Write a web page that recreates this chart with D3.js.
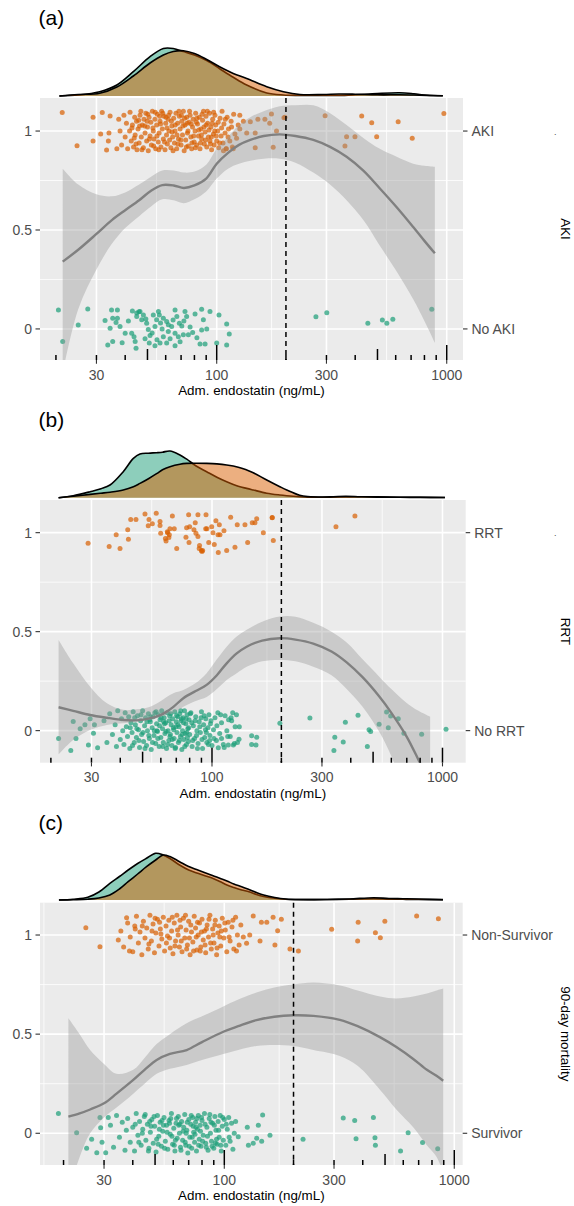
<!DOCTYPE html>
<html><head><meta charset="utf-8">
<script src="https://cdn.jsdelivr.net/npm/d3@7"></script>
<style>body{margin:0;background:#fff} svg{display:block} text{font-family:"Liberation Sans",Arial,Helvetica,sans-serif}</style>
</head><body><svg id="c" width="574" height="1206"></svg>
<script>
// ---------------- DATA ----------------
const xTickValues = [30, 100, 300, 1000];
const xTickLabels = ["30", "100", "300", "1000"];
const yTickValues = [0, 0.5, 1];
const yTickLabels = ["0", "0.5", "1"];
const panelLetters = ["(a)", "(b)", "(c)"];
const outcomeTitles = ["AKI", "RRT", "90-day mortality"];
const levelLabelsA = ["No AKI", "AKI"];
const levelLabelsB = ["No RRT", "RRT"];
const levelLabelsC = ["Survivor", "Non-Survivor"];
const xAxisTitle = "Adm. endostatin (ng/mL)";
const cutoffValue = 200;
const groupColors = ["#1B9E77", "#D95F02"];

// marginal densities (relative density units) on endostatin grid
const densGridA = [20.7,25,31,36.8,43.4,51.3,58.6,64.7,71.6,80,90.5,103.4,118,135,165,195,230,290,340,400,500,625,720,820,962];
const densNoA   = [0,1,4.3,11,24.3,39.3,47.5,47.5,44.5,41,35.5,27,18.7,11,3,1,0.6,0.5,0.5,1.2,2.5,3.2,2.2,0.8,0.2];
const densYesA  = [0,1.5,2.7,9,20,33,41,44.5,45.3,42.5,36.5,29,22.5,17.5,9.3,4.3,1.5,1.5,2,1.8,1.2,1.2,1,0.6,0.2];

const densGridB = [21.6,25,29.6,33,36.1,41.2,45.6,48.7,53,57.5,61,65.7,72.6,77.7,85,94.8,105,115.8,130,141.4,151,172.8,197,211,240,260,325,380,440,520,655,800,1025];
const densNoB   = [0,2,6,9,12.7,26,39.3,43.7,44.5,45,45.5,46.7,42.7,38.5,32,26,20.5,16,11.5,9.3,7.7,4.5,2.7,2,1,0.6,0.5,0.8,1,0.8,0.5,0.4,0.2];
const densYesB  = [0,1.5,3.3,4.5,5.5,7.7,11,14.3,19,24,28,31,33.5,34.3,34.5,34.3,33.8,32.7,30.5,27.7,25,17.7,11,7.7,2.5,1.2,0.8,1.5,1,0.6,0.4,0.3,0.2];

const densGridC = [19.1,22,25.5,28.5,31.8,35,38.2,42,45.9,50.3,54.2,58,63.9,70,76.7,83,88.9,95.6,102.7,110,119,128,138,148.3,165.7,184.9,220,280,350,446,520,598,700,893];
const densNoC   = [0,0.8,2.7,8,16.7,23.5,30,36.5,41.7,46.7,45,41.5,35,30,26.7,24,21.7,18.5,15,12.5,10,8.3,5.5,3.5,1.7,0.8,0.4,0.5,0.8,1.2,0.9,0.7,0.5,0.2];
const densYesC  = [0,0.3,0.8,2,5,11,18.3,26,33.3,40,45,43.5,38.3,33.5,30,27,24.5,21.7,19,16,13.3,10.5,7.5,5,2.5,1,0.5,0.5,1,2.3,1.5,1.3,1,0.4];

// loess fits with 95% band
const smoothXA  = [21.4,25,30,35,40,46,52,58,65,72,80,90,100,112,125,140,160,188,220,263,311,367,434,512,606,715,800,888];
const smoothFitA= [0.34,0.40,0.48,0.55,0.60,0.65,0.70,0.727,0.725,0.712,0.725,0.76,0.835,0.89,0.93,0.955,0.975,0.983,0.975,0.955,0.92,0.87,0.80,0.71,0.615,0.515,0.445,0.382];
const smoothLoA = [-0.22,0.10,0.30,0.43,0.51,0.57,0.62,0.655,0.65,0.635,0.655,0.695,0.76,0.81,0.835,0.85,0.86,0.86,0.84,0.79,0.73,0.65,0.55,0.42,0.29,0.15,0.04,-0.07];
const smoothHiA = [0.81,0.73,0.68,0.67,0.69,0.73,0.77,0.80,0.80,0.79,0.795,0.83,0.91,0.97,1.03,1.07,1.10,1.125,1.13,1.13,1.09,1.03,0.965,0.91,0.87,0.835,0.825,0.82];

const smoothXB  = [21.6,25,29.6,35,41.2,47,53.9,60,63.6,68,75.1,85,94.8,105,115.8,128,141.4,165,197,230,275,330,384,450,534,600,699,787,884];
const smoothFitB= [0.118,0.10,0.079,0.065,0.054,0.052,0.062,0.08,0.096,0.12,0.164,0.20,0.231,0.28,0.34,0.39,0.424,0.455,0.467,0.46,0.44,0.40,0.345,0.27,0.17,0.09,-0.03,-0.148,-0.27];
const smoothLoB = [-0.12,-0.047,0.003,0.029,0.037,0.045,0.054,0.07,0.08,0.088,0.12,0.15,0.17,0.21,0.256,0.29,0.323,0.35,0.357,0.35,0.323,0.28,0.21,0.12,-0.01,-0.13,-0.33,-0.5,-0.65];
const smoothHiB = [0.458,0.34,0.222,0.138,0.105,0.108,0.121,0.15,0.17,0.189,0.205,0.24,0.29,0.36,0.424,0.475,0.509,0.55,0.576,0.575,0.545,0.50,0.445,0.36,0.27,0.21,0.14,0.10,0.07];

const smoothXC  = [21,23.5,26.1,30,34,40.2,45,50.8,58,68.6,80,99,115,138,165,200,244,318,380,475,560,663,760,837,895];
const smoothFitC= [0.084,0.10,0.12,0.151,0.20,0.269,0.32,0.37,0.40,0.42,0.46,0.512,0.54,0.571,0.588,0.595,0.592,0.572,0.54,0.485,0.435,0.375,0.32,0.29,0.265];
const smoothLoC = [-0.3,-0.12,0.0,0.08,0.13,0.20,0.25,0.30,0.325,0.345,0.37,0.40,0.42,0.44,0.445,0.44,0.42,0.39,0.34,0.22,0.12,0.03,-0.06,-0.118,-0.2];
const smoothHiC = [0.58,0.50,0.42,0.35,0.30,0.32,0.38,0.45,0.50,0.555,0.59,0.64,0.675,0.71,0.735,0.75,0.76,0.745,0.72,0.69,0.68,0.69,0.705,0.72,0.73];

// jittered observations [endostatin, jittered outcome]
const ptsYesA = [[21.3,1.094],[24.7,0.926],[29,0.95],[29,1.07],[31.3,0.985],[31.8,1.094],[33.2,0.904],[33.8,0.95],[34,0.99],[34.4,1.076],[36.8,0.91],
[37.5,1.06],[38,1.0],[38.6,0.93],[39.5,1.08],[40,0.97],[40.5,1.04],[41,0.91],[41.8,1.0],[42,1.095],[42.5,0.95],[43,1.03],[43.5,0.92],[44,1.07],[44.2,0.98],[44.8,1.05],[45,0.905],[45.5,1.01],[46,0.94],[46.4,1.08],[46.8,1.1],[47,0.97],[47.5,1.03],[48,0.915],[48.3,1.06],[48.8,0.99],[49.2,1.09],[49.6,0.95],[50,1.02],[50.4,0.9],[50.8,1.07],[51.3,0.975],[51.7,1.045],[52,0.93],[52.5,1.1],[53,1.0],[53.4,0.96],[53.9,1.06],[54.3,0.91],[54.8,1.03],[55.2,1.085],[55.7,0.945],[56.2,0.99],[56.7,1.05],[57.2,0.92],[57.6,1.1],[58,1.01],[58.6,0.96],[59,1.075],[59.6,0.905],[60,1.04],[60.5,0.98],[61,0.935],[61.5,1.06],[62,1.0],[62.7,1.095],[63.2,0.915],[63.8,1.025],[64.3,0.97],[65,1.065],[65.5,0.94],[65.9,1.0],[66.5,1.09],[67,0.91],[67.6,1.04],[68.2,0.96],[68.8,1.075],[69.3,1.01],[70,0.93],[70.5,1.05],[71,0.98],[71.6,1.1],[72.2,0.9],[72.8,1.03],[73.3,0.955],[74,1.07],[74.6,0.99],[75.2,0.925],[75.8,1.045],[76.6,1.08],[77.2,0.97],[77.8,0.91],[78.5,1.02],[79,1.06],[79.8,0.945],[80.5,1.0],[81,1.09],[81.8,0.93],[82.5,1.035],[83.3,0.975],[84,1.07],[84.6,0.91],[85.4,1.01],[86,0.96],[86.8,1.055],[87.6,1.1],[88.3,0.935],[89,0.995],[89.8,1.075],[90.5,0.92],[91.3,1.04],[92,0.97],[93,1.09],[93.5,0.95],[94.3,1.02],[95,0.905],[96,1.06],[96.8,0.985],[97.5,0.93],[98.3,1.08],[99,1.03],[100,0.95],[101,1.0],[102,0.915],[103.4,1.065],[104.5,0.975],[105.5,1.1],[106.5,0.94],[107.5,1.035],[108.7,0.99],[110,0.91],[111,1.07],[112.5,1.01],[114,0.95],[115.5,1.05],[117,0.92],[118.5,1.085],[120,0.985],[122,0.963],[124,1.03],[126,1.08],[126,1.01],[118,0.91],[110,0.91],[130.6,1.05],[135,0.99],[140,1.047],[147,0.99],[147,0.916],[151,1.06],[162,1.06],[170,1.04],[173,1.086],[176,0.918],[182,1.0],[198,1.07],[196,1.067],[296,1.077],[361,0.924],[367,0.971],[399,0.971],[427,1.076],[472,1.042],[496,0.971],[615,1.047],[708,0.963],[972,1.089],
[42.8,1.015],[44.6,0.935],[45.8,1.055],[47.3,0.905],[48.6,1.025],[50.2,1.085],[51,0.96],[52.8,1.015],[54,1.095],[55,0.975],[56,0.905],[57,1.035],[58.3,1.09],[59.3,0.945],[60.8,1.015],[61.8,1.08],[62.4,0.955],[63.5,1.05],[64.6,0.9],[66,1.03],[67.2,0.98],[68.5,1.1],[69.8,0.955],[71.3,1.025],[72.5,1.065],[73.8,0.92],[75,1.0],[76.2,1.1],[77.5,1.035],[79.4,0.975],[80.8,0.915],[82,1.065],[83.6,1.005],[85,0.94],[86.4,1.085],[88,1.02],[89.4,0.955],[91,1.1],[92.6,1.005],[94,0.935],[95.6,1.04],[97,1.095],[99.5,0.975],[101.5,1.045],[103,0.94],[105,1.015],[107,0.9],[109,1.06],[112,0.97],[116,1.02],[43.8,0.965],[46.2,1.025],[49.8,1.05],[53.2,0.925],[56.5,1.075],[60.2,1.07],[64,0.995],[67.8,0.935],[70.2,1.08],[74.3,1.04],[78,0.94],[81.5,1.045],[85.8,0.98],[90,1.03],[94.8,0.97],[98,1.0]];

const ptsNoA = [[20.5,0.096],[21.4,-0.064],[25,0.02],[27.5,0.101],[32.7,0.042],[34.4,0.003],[33.6,-0.081],[35.3,-0.064],[34.9,0.096],[37,0.096],[35.3,0.054],[37,0.054],[36.5,0.033],[38,0.012],[40,-0.022],[42.7,-0.022],[44.2,-0.064],[44.6,-0.098],[43.7,-0.04],[44.9,0.08],[46.4,0.088],[44.9,0.063],[48,0.071],[47.2,0.046],[49.6,0.029],[50.4,-0.003],[51.3,-0.033],[50.9,-0.071],[53.9,-0.085],[56.7,-0.071],[53,0.071],[55.8,0.088],[56.3,0.071],[53.9,0.012],[54.8,0.046],[58.6,0.054],[60.6,0.037],[61.6,0.021],[63.7,0.012],[61.6,-0.013],[58.6,-0.04],[60.6,-0.071],[65.9,0.096],[67.1,0.063],[68.8,0.029],[65.9,-0.022],[68.1,-0.04],[65.9,-0.085],[72.8,0.088],[74,0.063],[70.5,0.015],[71.6,-0.03],[75.3,-0.03],[78.6,-0.018],[80.5,0.075],[86,0.1],[87.5,0.046],[86,-0.005],[84.6,-0.076],[89,-0.076],[90.5,0.0],[93.5,0.088],[102.3,0.071],[100,-0.071],[110.5,0.025],[113.4,-0.025],[110.5,-0.081],
[45.9,0.087],[48.8,-0.05],[52.4,-0.02],[55,-0.055],[57.9,0.0],[62.7,-0.05],[64.6,0.045],[69.3,-0.065],[72,0.04],[76.6,0.01],[82,-0.045],[41.3,0.04],[38.8,-0.07],[43,0.09],[49.2,0.05],[57,0.03],
[270,0.062],[301,0.082],[454,0.029],[525,0.045],[549,0.029],[583,0.049],[861,0.1]];

const ptsYesB = [[29,0.946],[35.8,0.93],[39.9,0.92],[38.4,0.99],[43.4,0.967],[43.1,1.015],[44.4,1.066],[46.8,1.066],[51.2,1.094],[53.3,1.066],[52.9,1.035],[55.1,1.045],[57.3,1.098],[59.5,1.056],[59.5,1.036],[59.9,0.997],[62.8,0.97],[63.2,0.958],[64.2,1.0],[65.3,0.99],[65.7,1.02],[68.6,1.02],[67.3,1.084],[70.3,0.92],[77.1,0.977],[79.5,0.95],[77.6,1.025],[79.2,1.09],[83.5,1.015],[84.6,1.05],[85.2,0.997],[86.9,1.09],[86.9,0.98],[88,0.92],[89.9,0.91],[91.1,0.91],[90.5,0.905],[94.2,1.09],[93.9,1.02],[96.8,0.95],[99.7,1.03],[102.3,0.94],[104,1.06],[106.5,0.9],[106.2,0.99],[107.6,1.04],[108.3,0.99],[112.7,1.01],[115.8,0.91],[120.5,1.078],[125.8,0.926],[128.7,1.04],[139,1.04],[142.8,0.95],[149.5,1.05],[153.6,1.05],[156.3,1.07],[167,1.0],[182.5,1.077],[182.5,1.075],[184.5,0.96],[345,1.03],[417,1.084],[64,1.005],[65,0.975],[88.3,0.935],[95,1.02],[101,1.0],[80,1.03]];

const ptsNoB = [[21.6,-0.04],[24.4,-0.1],[25,0.046],[25.7,-0.04],[28.1,0.03],[29.1,-0.072],[30.6,-0.013],[30.9,0.03],[31.9,-0.086],[26.8,0.01],[29.6,0.06],
[110,-0.04],[106.5,-0.086],[117.7,-0.072],[121.7,0.05],[127.7,0.08],[131.4,0.02],[131,-0.044],[123.8,-0.072],[148.6,-0.026],[156.3,-0.034],[148.6,-0.07],[155.2,-0.072],[197,0.037],
[266,0.064],[341,-0.034],[338,-0.1],[371,-0.057],[379,0.042],[430,0.078],[472,-0.08],[480,0.004],[488,-0.005],[531,0.032],[572,0.094],[596,0.074],[582,0.014],[643,0.06],[680,-0.013],[812,-0.018],[1036,0.007],
[34,0.05],[35,-0.06],[36,0.085],[37,-0.02],[38,0.03],[38.5,-0.08],[39,0.1],[40,-0.045],[40.5,0.06],[41,0.0],[41.5,-0.07],[42,0.09],[42.5,0.02],[43,-0.03],[43.5,0.07],[44,-0.09],[44.5,0.04],[45,-0.01],[45.5,0.095],[46,-0.06],[46.5,0.03],[47,-0.035],[47.5,0.075],[48,0.005],[48.5,-0.085],[49,0.05],[49.5,-0.02],[50,0.1],[50.5,-0.055],[51,0.025],[51.5,0.065],[52,-0.075],[52.5,0.0],[53,0.085],[53.5,-0.04],[54,0.045],[54.5,-0.095],[55,0.015],[55.5,0.07],[56,-0.025],[56.5,0.09],[57,-0.065],[57.5,0.035],[58,-0.005],[58.5,0.08],[59,-0.08],[59.5,0.055],[60,-0.035],[60.5,0.1],[61,0.01],[61.5,-0.06],[62,0.065],[62.5,-0.015],[63,0.04],[63.5,-0.09],[64,0.09],[64.5,0.0],[65,-0.05],[65.5,0.075],[66,-0.02],[66.5,0.03],[67,-0.075],[67.5,0.06],[68,0.015],[68.5,-0.04],[69,0.095],[69.5,-0.085],[70,0.045],[70.5,-0.01],[71,0.07],[71.5,-0.06],[72,0.02],[72.5,0.085],[73,-0.03],[73.5,0.05],[74,-0.095],[74.5,0.0],[75,0.065],[75.5,-0.045],[76,0.1],[76.5,-0.015],[77,0.035],[77.5,-0.07],[78,0.08],[78.5,0.01],[79,-0.055],[79.5,0.055],[80,-0.02],[81,0.09],[82,-0.08],[83,0.025],[84,-0.04],[85,0.07],[86,0.0],[87,-0.065],[88,0.045],[89,-0.01],[90,0.095],[91,-0.09],[92,0.03],[93,-0.035],[94,0.06],[95,-0.06],[96,0.015],[97,0.08],[98,-0.025],[99,0.05],[100,-0.075],[101.5,0.005],[103,0.065],[104.5,-0.05],[106,0.09],[108,-0.015],[110,0.04],[112,-0.07],[114,0.075],[116,0.0],[118,0.055],[120,-0.03],[123,0.09],[126,0.02],[129,-0.06],
[44.2,0.015],[45.2,-0.075],[46.2,0.065],[47.2,0.01],[48.2,-0.05],[49.2,0.08],[50.2,-0.01],[51.2,-0.09],[52.2,0.045],[53.2,-0.025],[54.2,0.07],[55.2,-0.06],[56.2,0.0],[57.2,0.095],[58.2,-0.04],[59.2,0.025],[60.2,0.065],[61.2,-0.08],[62.2,0.035],[63.2,-0.005],[64.2,-0.07],[65.2,0.05],[66.2,0.085],[67.2,-0.045],[68.2,0.005],[69.2,-0.09],[70.2,0.075],[71.2,0.03],[72.2,-0.05],[73.2,0.1],[74.2,-0.02],[75.2,0.04],[76.2,-0.08],[77.2,0.06],[78.2,-0.035],[79.2,0.015],[80.5,0.085],[82.5,-0.05],[84.5,0.05],[86.5,-0.09],[88.5,0.02],[90.5,-0.045],[92.5,0.075],[94.5,-0.01],[96.5,-0.07],[98.5,0.035],[102,-0.04],[105,0.025],[109,0.08],[113,-0.085],[117,-0.03],[121,0.065],[125,-0.065],
[53.7,0.055],[57.7,0.0],[61.7,0.045],[65.7,-0.03],[69.7,0.02],[73.7,0.06],[77.7,-0.01],[81.7,0.04],[85.7,-0.025],[89.7,0.065],[93.7,0.005],[97.7,-0.05]];

const ptsYesC = [[25,1.037],[28.8,0.941],[34.6,0.975],[37.6,1.087],[163,1.089],[170.6,1.022],[166,0.95],[193,0.93],[210,0.92],[143,0.97],[145,1.065],[153,1.065],[133.6,1.096],[121,0.99],[125,0.958],[129,1.0],[293,1.029],[177,1.08],[382,1.064],[380,0.97],[454,1.012],[477,0.986],[499,1.07],[686,1.096],[853,1.082],
[35.5,1.02],[36.5,0.94],[38,1.06],[39,0.99],[40,0.915],[40.8,1.045],[41.5,1.095],[42.3,0.96],[43,1.015],[43.8,0.9],[44.5,1.07],[45.2,0.985],[46,1.035],[46.7,0.93],[47.5,1.1],[48.2,0.97],[49,1.055],[49.7,0.91],[50.4,1.01],[51.2,1.08],[52,0.945],[52.7,1.03],[53.5,0.98],[54.3,1.09],[55,0.92],[55.8,1.045],[56.6,0.995],[57.4,1.075],[58.2,0.935],[59,1.02],[59.8,0.905],[60.6,1.06],[61.4,0.97],[62.2,1.1],[63,1.0],[63.8,0.94],[64.6,1.04],[65.5,0.915],[66.4,1.085],[67.3,0.985],[68.2,1.025],[69.1,0.95],[70,1.07],[71,0.9],[72,1.015],[73,0.965],[74,1.095],[75,1.035],[76,0.925],[77,1.0],[78,1.06],[79,0.94],[80,1.08],[81,0.975],[82,1.02],[83,0.91],[84.2,1.05],[85.4,0.99],[86.6,1.1],[87.8,0.93],[89,1.03],[90.2,0.96],[91.4,1.075],[92.6,0.9],[93.8,1.01],[95,1.045],[96.5,0.945],[98,1.085],[99.5,0.985],[101,1.025],[102.5,0.915],[104,1.065],[106,0.97],[108,1.04],[110,0.93],[112,1.09],[114,1.0],[116,0.95],[118,1.05],[38.7,0.92],[41,1.03],[44,1.045],[47,0.955],[50,1.085],[53,1.005],[56,0.96],[59.4,1.09],[62.6,1.025],[65,0.97],[67.8,1.1],[70.5,0.985],[73.5,0.92],[76.5,1.065],[79.5,1.015],[82.5,0.95],[85.8,1.08],[89.5,1.0],[93,0.935],[97,1.02],[100.5,1.06],[105,0.99],[109,1.075],[113,0.92],[48.5,1.02],[52.3,1.065],[57.8,0.985],[61,0.945],[64.2,1.075],[68.6,0.93],[71.5,1.05],[75.5,0.99],[78.6,0.92],[83.6,1.03],[87.2,0.96],[91,1.05],[95.6,0.99]];

const ptsNoC = [[19,0.1],[22.8,0.003],[25.2,-0.076],[26.5,-0.03],[27.9,-0.098],[28.8,0.08],[29,0.028],[30.5,-0.098],[31.3,0.08],[29.4,-0.045],
[115,-0.017],[125.9,0.03],[127.3,-0.06],[133.6,-0.05],[138.3,-0.025],[140.6,0.04],[145.4,-0.04],[146.8,0.092],[158,-0.01],[220,-0.03],[329,0.077],[369,0.064],[374,-0.027],[445,0.08],[452,-0.022],[454,-0.06],[584,-0.09],[630,0.003],[728,-0.047],[847,-0.078],
[32,0.04],[33,-0.07],[34,0.09],[35,-0.02],[36,0.055],[37,-0.085],[37.5,0.015],[38,0.075],[39,-0.045],[40,0.03],[40.7,-0.09],[41.4,0.1],[42.1,-0.01],[42.8,0.06],[43.5,-0.06],[44.2,0.02],[44.9,0.085],[45.6,-0.035],[46.3,0.045],[47,-0.075],[47.7,0.005],[48.4,0.07],[49.1,-0.05],[49.8,0.035],[50.5,-0.095],[51.2,0.09],[51.9,-0.015],[52.6,0.055],[53.3,-0.065],[54,0.01],[54.7,0.08],[55.4,-0.04],[56.1,0.04],[56.8,-0.08],[57.5,0.065],[58.2,-0.005],[58.9,0.1],[59.6,-0.055],[60.3,0.025],[61,-0.09],[61.7,0.05],[62.4,-0.025],[63.1,0.085],[63.8,0.0],[64.5,-0.07],[65.2,0.06],[65.9,-0.035],[66.6,0.03],[67.3,0.095],[68,-0.06],[68.7,0.015],[69.4,-0.1],[70.1,0.07],[70.8,-0.02],[71.5,0.045],[72.2,-0.075],[72.9,0.08],[73.6,0.005],[74.3,-0.045],[75,0.055],[75.7,-0.09],[76.4,0.02],[77.1,0.09],[77.8,-0.03],[78.5,0.04],[79.2,-0.065],[80,0.065],[81,-0.01],[82,0.1],[83,-0.05],[84,0.03],[85,-0.085],[86,0.075],[87,0.0],[88,-0.04],[89,0.05],[90,-0.075],[91,0.085],[92,0.015],[93,-0.055],[94,0.06],[95,-0.02],[96,0.09],[97,-0.09],[98,0.035],[99,-0.035],[100,0.07],[101.5,-0.06],[103,0.02],[104.5,0.08],[106,-0.04],[107.5,0.05],[109,-0.08],[110.5,0.0],[112,0.06],
[41,0.045],[42.5,-0.045],[44,0.0],[45.3,0.095],[46.8,-0.09],[48,0.035],[49.5,0.085],[50.8,-0.03],[52.2,0.02],[53.6,0.065],[55,-0.075],[56.4,0.005],[57.8,0.05],[59.2,-0.015],[60.6,-0.06],[62,0.075],[63.4,0.04],[64.8,-0.085],[66.2,0.01],[67.6,-0.045],[69,0.055],[70.4,-0.065],[71.8,0.09],[73.2,0.035],[74.6,-0.005],[76,0.075],[77.4,-0.06],[78.8,0.01],[80.5,-0.04],[82.5,0.045],[84.5,-0.015],[86.5,0.095],[88.5,-0.065],[90.5,0.04],[92.5,-0.03],[94.5,0.015],[96.5,-0.06],[98.5,0.08],[102,0.045],[105,-0.02],[47.4,0.06],[51.6,-0.055],[54.4,0.04],[58.5,0.075],[61.3,-0.035],[64.1,0.045],[68.3,0.0],[72.5,-0.02],[75.3,0.03],[79.6,0.08],[83.5,-0.07],[87.5,0.055],[91.5,-0.05]];

// ---------------- DRAWING ----------------
const svg = d3.select("#c");
const layouts = [
  {left:40, right:463,   top:98,    bottom:360,  xlo:17.05, xhi:1177, ylo:-0.157, yhi:1.167, base:96,    letterY:25,  dot:true},
  {left:40, right:465.7, top:500,   bottom:762.7,xlo:17.94, xhi:1261, ylo:-0.162, yhi:1.165, base:497.7, letterY:427, dot:true},
  {left:40, right:462.7, top:902.7, bottom:1165, xlo:15.8,  xhi:1088, ylo:-0.16,  yhi:1.163, base:900,   letterY:830, dot:false}
];
const datasets = [
  {grid:densGridA, dNo:densNoA, dYes:densYesA, sx:smoothXA, fit:smoothFitA, lo:smoothLoA, hi:smoothHiA, no:ptsNoA, yes:ptsYesA, levels:levelLabelsA},
  {grid:densGridB, dNo:densNoB, dYes:densYesB, sx:smoothXB, fit:smoothFitB, lo:smoothLoB, hi:smoothHiB, no:ptsNoB, yes:ptsYesB, levels:levelLabelsB},
  {grid:densGridC, dNo:densNoC, dYes:densYesC, sx:smoothXC, fit:smoothFitC, lo:smoothLoC, hi:smoothHiC, no:ptsNoC, yes:ptsYesC, levels:levelLabelsC}
];
const smoothCurve = d3.curveCatmullRom.alpha(0.5);

layouts.forEach((L, i) => {
  const D = datasets[i];
  const g = svg.append("g");
  const x = d3.scaleLog().domain([L.xlo, L.xhi]).range([L.left, L.right]);
  const y = d3.scaleLinear().domain([L.ylo, L.yhi]).range([L.bottom, L.top]);
  const yd = d3.scaleLinear().domain([0, 50]).range([L.base, L.base - 50]);
  const W = L.right - L.left, H = L.bottom - L.top;

  g.append("rect").attr("x", L.left).attr("y", L.top).attr("width", W).attr("height", H).attr("fill", "#ebebeb");

  const majLog = xTickValues.map(Math.log10);
  const stepL = majLog[1] - majLog[0];
  const ext = [majLog[0] - stepL, ...majLog, majLog[majLog.length - 1] + stepL];
  const minorX = d3.pairs(ext).map(([a, b]) => Math.pow(10, (a + b) / 2)).filter(v => v > L.xlo && v < L.xhi);
  const minorY = d3.pairs(yTickValues).map(([a, b]) => (a + b) / 2);

  g.selectAll(null).data(minorX).join("line")
    .attr("x1", d => x(d)).attr("x2", d => x(d)).attr("y1", L.top).attr("y2", L.bottom)
    .attr("stroke", "#fff").attr("stroke-width", 0.8);
  g.selectAll(null).data(minorY).join("line")
    .attr("x1", L.left).attr("x2", L.right).attr("y1", d => y(d)).attr("y2", d => y(d))
    .attr("stroke", "#fff").attr("stroke-width", 0.8);
  g.selectAll(null).data(xTickValues.filter(v => v > L.xlo && v < L.xhi)).join("line")
    .attr("x1", d => x(d)).attr("x2", d => x(d)).attr("y1", L.top).attr("y2", L.bottom)
    .attr("stroke", "#fff").attr("stroke-width", 1.6);
  g.selectAll(null).data(yTickValues).join("line")
    .attr("x1", L.left).attr("x2", L.right).attr("y1", d => y(d)).attr("y2", d => y(d))
    .attr("stroke", "#fff").attr("stroke-width", 1.6);

  const cid = "clip" + i;
  svg.append("clipPath").attr("id", cid).append("rect")
    .attr("x", L.left).attr("y", L.top).attr("width", W).attr("height", H);
  const pg = g.append("g").attr("clip-path", `url(#${cid})`);

  pg.selectAll(null).data(D.no).join("circle")
    .attr("cx", d => x(d[0])).attr("cy", d => y(d[1])).attr("r", 2.5)
    .attr("fill", groupColors[0]).attr("fill-opacity", 0.7);
  pg.selectAll(null).data(D.yes).join("circle")
    .attr("cx", d => x(d[0])).attr("cy", d => y(d[1])).attr("r", 2.5)
    .attr("fill", groupColors[1]).attr("fill-opacity", 0.7);

  const sm = D.sx.map((v, k) => ({v, f: D.fit[k], lo: D.lo[k], hi: D.hi[k]}));
  pg.append("path").datum(sm)
    .attr("d", d3.area().x(d => x(d.v)).y0(d => y(d.lo)).y1(d => y(d.hi)).curve(smoothCurve))
    .attr("fill", "#999999").attr("fill-opacity", 0.4);
  pg.append("path").datum(sm)
    .attr("d", d3.line().x(d => x(d.v)).y(d => y(d.f)).curve(smoothCurve))
    .attr("fill", "none").attr("stroke", "#808080").attr("stroke-width", 2.4);

  g.append("line").attr("x1", x(cutoffValue)).attr("x2", x(cutoffValue))
    .attr("y1", L.top).attr("y2", L.bottom)
    .attr("stroke", "#000").attr("stroke-width", 1.5).attr("stroke-dasharray", "5,4");

  const logT = [];
  for (let k = 1; k <= 3; k++) for (let m = 1; m <= 9; m++) {
    const v = m * Math.pow(10, k);
    if (v > L.xlo && v < L.xhi) logT.push({v, len: m === 1 ? 15 : (m === 5 ? 11 : 5)});
  }
  g.selectAll(null).data(logT).join("line")
    .attr("x1", d => x(d.v)).attr("x2", d => x(d.v))
    .attr("y1", L.bottom).attr("y2", d => L.bottom - d.len)
    .attr("stroke", "#000").attr("stroke-width", 1.5);

  const xt = xTickValues.map((v, k) => ({v, lab: xTickLabels[k]})).filter(d => d.v > L.xlo && d.v < L.xhi);
  g.selectAll(null).data(xt).join("line")
    .attr("x1", d => x(d.v)).attr("x2", d => x(d.v)).attr("y1", L.bottom).attr("y2", L.bottom + 3.7)
    .attr("stroke", "#333").attr("stroke-width", 1.1);
  g.selectAll(null).data(xt).join("text")
    .attr("x", d => x(d.v)).attr("y", L.bottom + 19.5).attr("text-anchor", "middle")
    .attr("font-size", 14).attr("fill", "#4d4d4d").text(d => d.lab);
  g.append("text").attr("x", (L.left + L.right) / 2).attr("y", L.bottom + 35)
    .attr("text-anchor", "middle").attr("font-size", 13.4).attr("fill", "#000").text(xAxisTitle);

  const yt = yTickValues.map((v, k) => ({v, lab: yTickLabels[k]}));
  g.selectAll(null).data(yt).join("line")
    .attr("x1", L.left - 4.5).attr("x2", L.left).attr("y1", d => y(d.v)).attr("y2", d => y(d.v))
    .attr("stroke", "#333").attr("stroke-width", 1.1);
  g.selectAll(null).data(yt).join("text")
    .attr("x", L.left - 8).attr("y", d => y(d.v)).attr("dy", "0.36em").attr("text-anchor", "end")
    .attr("font-size", 14).attr("fill", "#4d4d4d").text(d => d.lab);

  const rt = [0, 1].map(v => ({v, lab: D.levels[v]}));
  g.selectAll(null).data(rt).join("line")
    .attr("x1", L.right).attr("x2", L.right + 4.5).attr("y1", d => y(d.v)).attr("y2", d => y(d.v))
    .attr("stroke", "#333").attr("stroke-width", 1.1);
  g.selectAll(null).data(rt).join("text")
    .attr("x", L.right + 8.5).attr("y", d => y(d.v)).attr("dy", "0.36em")
    .attr("font-size", 14).attr("fill", "#4d4d4d").text(d => d.lab);
  g.append("text").attr("transform", `translate(566,${(L.top + L.bottom) / 2}) rotate(90)`)
    .attr("text-anchor", "middle").attr("dy", "0.35em").attr("font-size", 13.4).attr("fill", "#000")
    .text(outcomeTitles[i]);
  if (L.dot) {
    g.append("text").attr("x", 554).attr("y", y(1) + 3.5).attr("font-size", 9).attr("fill", "#4d4d4d").text(".");
  }

  const dn = D.grid.map((v, k) => ({v, h: D.dNo[k]}));
  const dy2 = D.grid.map((v, k) => ({v, h: D.dYes[k]}));
  const area = d3.area().x(d => x(d.v)).y0(L.base).y1(d => yd(d.h)).curve(smoothCurve);
  const line = d3.line().x(d => x(d.v)).y(d => yd(d.h)).curve(smoothCurve);
  [[dn, groupColors[0]], [dy2, groupColors[1]]].forEach(([arr, col]) => {
    g.append("path").datum(arr).attr("d", area).attr("fill", col).attr("fill-opacity", 0.5);
    g.append("path").datum(arr).attr("d", line).attr("fill", "none").attr("stroke", "#000").attr("stroke-width", 1.6);
  });

  g.append("text").attr("x", 38.5).attr("y", L.letterY).attr("font-size", 21).attr("fill", "#000").text(panelLetters[i]);
});
</script></body></html>
